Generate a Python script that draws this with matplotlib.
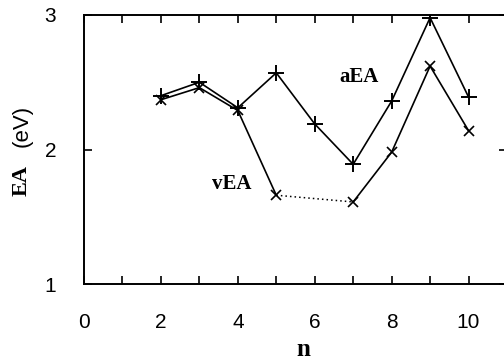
import matplotlib
matplotlib.use("Agg")
import matplotlib.pyplot as plt
import numpy as np

n_a = [2, 3, 4, 5, 6, 7, 8, 9, 10]
aEA = [2.40, 2.50, 2.31, 2.57, 2.19, 1.89, 2.36, 2.98, 2.39]

n_v1 = [2, 3, 4, 5]
vEA1 = [2.37, 2.46, 2.29, 1.66]
n_vgap = [5, 7]
vEAgap = [1.66, 1.61]
n_v2 = [7, 8, 9, 10]
vEA2 = [1.61, 1.98, 2.62, 2.14]

xticks = [0, 2, 4, 6, 8, 10]
yticks = [1, 2, 3]

W, H = 504, 364
fig = plt.figure(figsize=(W/100, H/100), dpi=100)
ax = fig.add_axes([84/W, (H-284)/H, (507-84)/W, (284-15)/H])

ax.plot(n_a, aEA, color='black', lw=1.2, marker='+', ms=11, mew=1.4)
ax.plot(n_v1, vEA1, color='black', lw=1.2, marker='x', ms=7.5, mew=1.2)
ax.plot(n_vgap, vEAgap, color='black', lw=1.1, ls=(0, (1, 2)))
ax.plot(n_v2, vEA2, color='black', lw=1.2, marker='x', ms=7.5, mew=1.2)

ax.set_xlim(0, 11)
ax.set_ylim(1, 3)
ax.set_xticks(xticks)
ax.set_xticks(range(0, 12), minor=True)
ax.set_yticks(yticks)
ax.tick_params(which='both', direction='in', top=True, right=True, length=6, width=1.2)
ax.tick_params(axis='x', pad=21)
ax.tick_params(axis='y', pad=20)
for lab in ax.get_xticklabels() + ax.get_yticklabels():
    lab.set_fontfamily('Liberation Sans')
    lab.set_fontsize(15)
for s in ax.spines.values():
    s.set_linewidth(1.4)

ax.text(7.15, 2.54, 'aEA', fontfamily='Liberation Serif', fontweight='bold', fontsize=15, ha='center', va='center')
ax.text(3.83, 1.74, 'vEA', fontfamily='Liberation Serif', fontweight='bold', fontsize=15, ha='center', va='center')

fig.text(303/W, 1 - 350/H, 'n', fontfamily='Liberation Serif', fontweight='bold', fontsize=18, ha='center', va='center')
fig.text(22/W, 1 - 180/H, 'EA', fontfamily='Liberation Serif', fontweight='bold', fontsize=16, rotation=90, ha='center', va='center')
fig.text(22/W, 1 - 126/H, '(eV)', fontfamily='Liberation Sans', fontsize=16, rotation=90, ha='center', va='center')

fig.savefig('out.png', dpi=100)
